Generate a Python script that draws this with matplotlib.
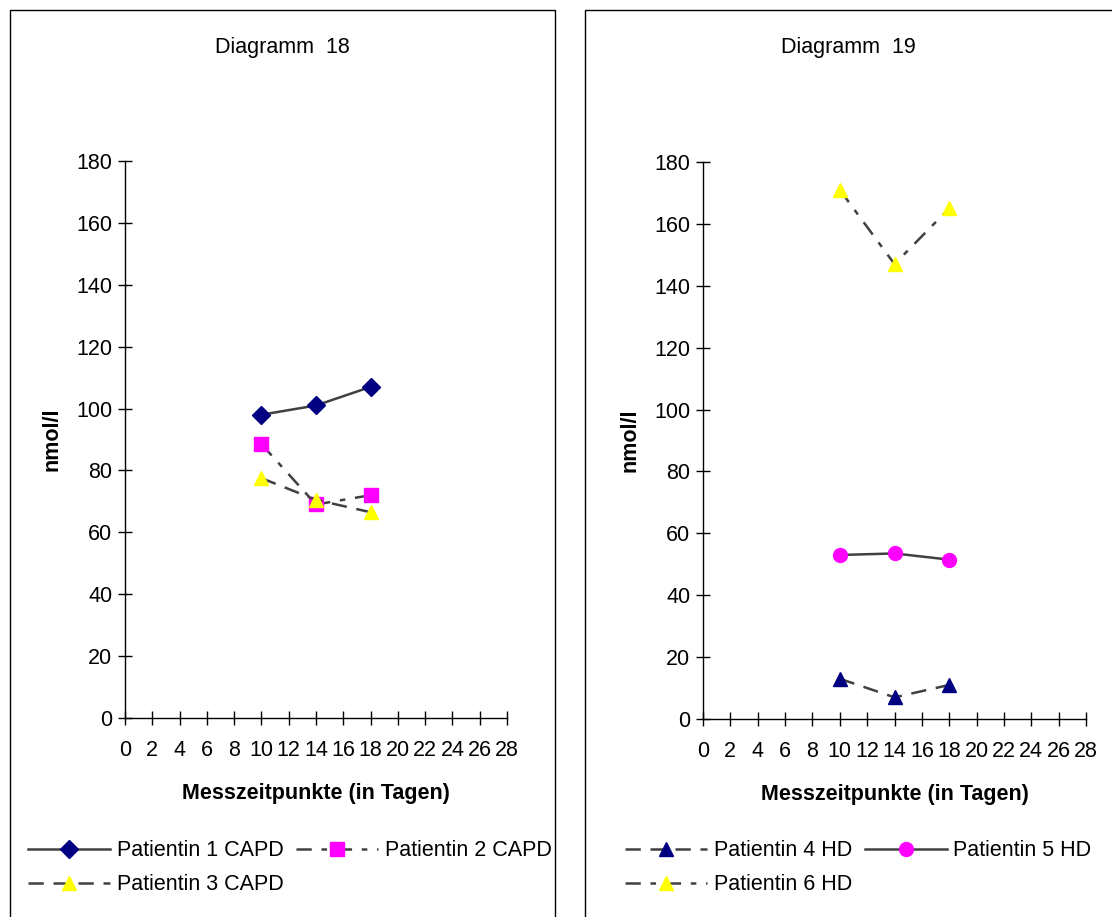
import numpy as np
import matplotlib
matplotlib.use('Agg')
import matplotlib.pyplot as plt
from matplotlib.patches import Rectangle

plt.rcParams['font.family'] = ['Liberation Sans', 'DejaVu Sans']
plt.rcParams['lines.scale_dashes'] = False

days = [10, 14, 18]
xticks = list(range(0, 29, 2))
yticks = list(range(0, 181, 20))

# Diagramm 18 (CAPD)
p1_capd = [98, 101, 107]
p2_capd = [88.5, 69, 72]
p3_capd = [77.5, 70.5, 66.5]
# Diagramm 19 (HD)
p4_hd = [13, 7, 11]
p5_hd = [53, 53.5, 51.5]
p6_hd = [171, 147, 165]

line_col = '#404040'
navy = '#000080'
magenta = '#ff00ff'
yellow = '#ffff00'
dashed = (0, (11, 7))
dashdot = (0, (11, 7, 4, 7))
fs = 15.5

W, H = 1112, 917
fig = plt.figure(figsize=(W / 100, H / 100), dpi=100)

def px(x0, y0, x1, y1):
	return [x0 / W, 1 - y1 / H, (x1 - x0) / W, (y1 - y0) / H]

# panel frames
fig.patches.append(Rectangle((10 / W, -0.01), 545 / W, 1 - 10 / H + 0.01,
	transform=fig.transFigure, fill=False, ec='black', lw=1))
fig.patches.append(Rectangle((585 / W, -0.01), 540 / W, 1 - 10 / H + 0.01,
	transform=fig.transFigure, fill=False, ec='black', lw=1))

def setup(ax, title, cx):
	ax.set_xlim(0, 28)
	ax.set_ylim(0, 180)
	ax.set_xticks(xticks)
	ax.set_yticks(yticks)
	for s in ['top', 'right']:
		ax.spines[s].set_visible(False)
	for s in ['left', 'bottom']:
		ax.spines[s].set_linewidth(1)
	ax.tick_params(direction='inout', length=9.5, width=1, labelsize=fs, pad=4.5)
	ax.tick_params(axis='x', pad=11)
	ax.set_xlabel('Messzeitpunkte (in Tagen)', fontsize=fs, fontweight='bold', labelpad=16)
	ax.set_ylabel('nmol/l', fontsize=fs, fontweight='bold', labelpad=10)
	fig.text(cx / W, 1 - 47 / H, title, ha='center', va='center', fontsize=fs)

ax1 = fig.add_axes(px(125, 161, 507, 718))
setup(ax1, 'Diagramm  18', 282.5)
h1, = ax1.plot(days, p1_capd, color=line_col, lw=1.8, ls='-', marker='D', ms=9,
	mfc=navy, mec=navy, label='Patientin 1 CAPD')
h2, = ax1.plot(days, p2_capd, color=line_col, lw=1.8, ls=dashdot, marker='s', ms=10,
	mfc=magenta, mec=magenta, label='Patientin 2 CAPD')
h3, = ax1.plot(days, p3_capd, color=line_col, lw=1.8, ls=dashed, marker='^', ms=10,
	mfc=yellow, mec=yellow, label='Patientin 3 CAPD')

ax2 = fig.add_axes(px(703, 162, 1086, 719))
setup(ax2, 'Diagramm  19', 848)
h4, = ax2.plot(days, p4_hd, color=line_col, lw=1.8, ls=dashed, marker='^', ms=10,
	mfc=navy, mec=navy, label='Patientin 4 HD')
h5, = ax2.plot(days, p5_hd, color=line_col, lw=1.8, ls='-', marker='o', ms=10,
	mfc=magenta, mec=magenta, label='Patientin 5 HD')
h6, = ax2.plot(days, p6_hd, color=line_col, lw=1.8, ls=dashdot, marker='^', ms=10,
	mfc=yellow, mec=yellow, label='Patientin 6 HD')

# legends fill column-wise, so reorder to read row by row
for ax, x0, hs in [(ax1, 22, [h1, h3, h2]), (ax2, 619, [h4, h6, h5])]:
	ax.legend(handles=hs, loc='upper left', bbox_to_anchor=(x0 / W, 1 - 834 / H),
		bbox_transform=fig.transFigure, ncol=2, frameon=False, fontsize=fs,
		handlelength=3.8, handletextpad=0.3, columnspacing=0.6,
		labelspacing=0.6, borderaxespad=0, borderpad=0.3)

fig.savefig('out.png', dpi=100)
